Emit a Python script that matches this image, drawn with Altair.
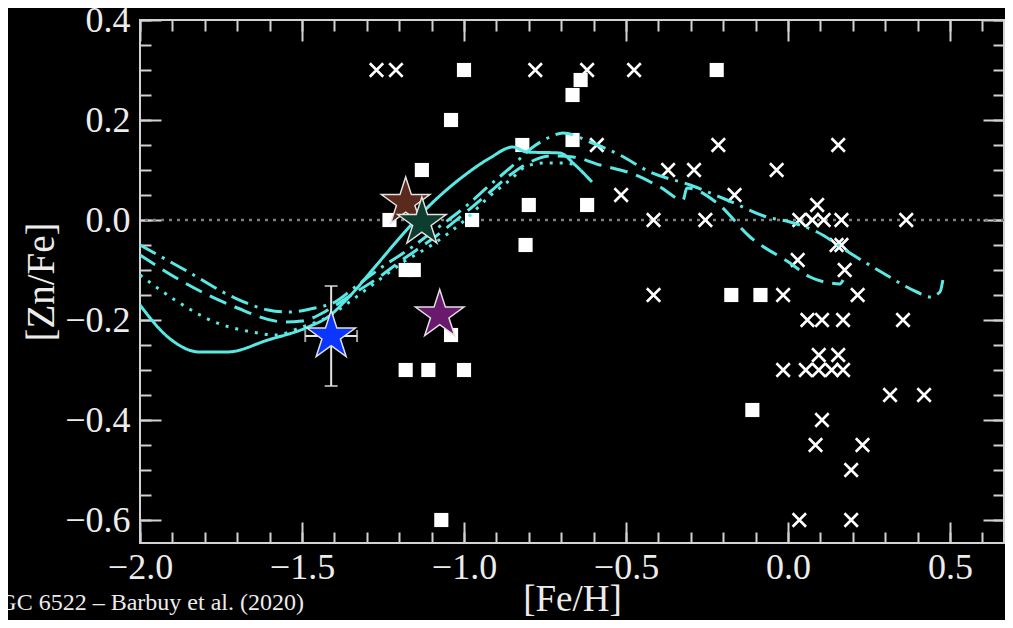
import altair as alt
import pandas as pd

# ---------------- data ----------------
cross_x = [-1.27, -1.21, -0.78, -0.62, -0.475, -0.59, -0.37, -0.29, -0.215, -0.035, 0.155,
           -0.515, -0.165, 0.09, -0.415, -0.255, 0.035, 0.075, 0.11, 0.165, 0.365,
           0.03, 0.15, 0.165, 0.175, -0.415, -0.015, 0.215, 0.06, 0.105, 0.17, 0.355,
           0.095, 0.155, -0.015, 0.055, 0.095, 0.135, 0.17, 0.315, 0.42, 0.105,
           0.085, 0.23, 0.195, 0.035, 0.195]
cross_y = [0.30, 0.30, 0.30, 0.30, 0.30, 0.15, 0.10, 0.10, 0.15, 0.10, 0.15,
           0.05, 0.05, 0.03, 0.0, 0.0, 0.0, 0.0, 0.0, 0.0, 0.0,
           -0.08, -0.05, -0.05, -0.10, -0.15, -0.15, -0.15, -0.20, -0.20, -0.20, -0.20,
           -0.27, -0.27, -0.30, -0.30, -0.30, -0.30, -0.30, -0.35, -0.35, -0.40,
           -0.45, -0.45, -0.50, -0.60, -0.60]

square_x = [-1.23, -0.975, -1.00, -1.04, -1.13, -0.82, -0.64, -0.665, -0.665, -0.22,
            -0.80, -0.62, -0.81, -0.175, -0.085, -0.11, -1.18, -1.155, -1.04,
            -1.18, -1.11, -1.00, -1.07]
square_y = [0.0, 0.0, 0.30, 0.20, 0.10, 0.15, 0.28, 0.25, 0.16, 0.30,
            0.03, 0.03, -0.05, -0.15, -0.15, -0.38, -0.10, -0.10, -0.23,
            -0.30, -0.30, -0.30, -0.60]

star_names = ["brown", "green", "purple", "blue"]
star_x = [-1.18, -1.13, -1.075, -1.41]
star_y = [0.035, -0.005, -0.19, -0.232]
star_colors = ["#5a2a1c", "#0c3d2e", "#6a1a6c", "#0a36ff"]

err_x = [-1.41]
err_y = [-0.232]
err_xlo = [-1.49]
err_xhi = [-1.33]
err_ylo = [-0.332]
err_yhi = [-0.132]

solid_x = [-2.000, -1.914, -1.815, -1.731, -1.605, -1.481, -1.420, -1.358, -1.275, -1.191,
           -1.111, -0.997, -0.920, -0.849, -0.806, -0.704, -0.657, -0.605]
solid_y = [-0.170, -0.234, -0.264, -0.264, -0.240, -0.214, -0.194, -0.156, -0.094, -0.030,
           0.026, 0.090, 0.124, 0.146, 0.136, 0.134, 0.110, 0.076]

dotted_x = [-2.000, -1.892, -1.769, -1.654, -1.583, -1.500, -1.420, -1.358, -1.275, -1.191,
            -1.090, -0.997, -0.920, -0.858, -0.806, -0.750, -0.688, -0.648]
dotted_y = [-0.110, -0.160, -0.204, -0.224, -0.230, -0.214, -0.194, -0.166, -0.126, -0.086,
            -0.046, 0.000, 0.048, 0.080, 0.108, 0.114, 0.114, 0.108]

dashed_x = [-2.000, -1.861, -1.707, -1.552, -1.500, -1.420, -1.358, -1.275, -1.191, -1.090,
            -0.997, -0.920, -0.858, -0.796, -0.735, -0.664, -0.580, -0.478, -0.395, -0.324,
            -0.312, -0.219, -0.117, 0.006, 0.068, 0.130, 0.160, 0.170]
dashed_y = [-0.070, -0.126, -0.174, -0.204, -0.202, -0.180, -0.154, -0.120, -0.080, -0.034,
            0.014, 0.056, 0.090, 0.116, 0.128, 0.126, 0.110, 0.092, 0.066, 0.040,
            0.064, 0.034, -0.034, -0.086, -0.114, -0.126, -0.128, -0.120]

dashdot_x = [-2.000, -1.861, -1.707, -1.605, -1.543, -1.460, -1.398, -1.336, -1.253, -1.173,
             -1.090, -0.997, -0.920, -0.858, -0.787, -0.741, -0.694, -0.611, -0.519, -0.426,
             -0.302, -0.188, -0.065, 0.006, 0.090, 0.191, 0.293, 0.398, 0.438, 0.469, 0.478]
dashdot_y = [-0.050, -0.100, -0.156, -0.180, -0.184, -0.176, -0.164, -0.134, -0.094, -0.060,
             -0.020, 0.026, 0.070, 0.104, 0.146, 0.164, 0.174, 0.156, 0.130, 0.096,
             0.070, 0.040, 0.006, -0.004, -0.024, -0.066, -0.106, -0.144, -0.154, -0.144, -0.120]

x_major = [-2.0, -1.5, -1.0, -0.5, 0.0, 0.5]
x_minor = [-2.0, -1.9, -1.8, -1.7, -1.6, -1.5, -1.4, -1.3, -1.2, -1.1, -1.0, -0.9, -0.8, -0.7,
           -0.6, -0.5, -0.4, -0.3, -0.2, -0.1, 0.0, 0.1, 0.2, 0.3, 0.4, 0.5, 0.6]
y_major = [-0.6, -0.4, -0.2, 0.0, 0.2, 0.4]
y_minor = [-0.6, -0.55, -0.5, -0.45, -0.4, -0.35, -0.3, -0.25, -0.2, -0.15, -0.1, -0.05, 0.0,
           0.05, 0.1, 0.15, 0.2, 0.25, 0.3, 0.35, 0.4]

note_text = ["NGC 6522 \u2013 Barbuy et al. (2020)"]

# ---------------- tables ----------------
crosses = pd.DataFrame({"x": cross_x, "y": cross_y})
squares = pd.DataFrame({"x": square_x, "y": square_y})
stars = pd.DataFrame({"x": star_x, "y": star_y, "name": star_names})
err = pd.DataFrame({"x": err_x, "y": err_y, "xlo": err_xlo, "xhi": err_xhi,
                    "ylo": err_ylo, "yhi": err_yhi})
rows = []
for name, xs_, ys_ in [("solid", solid_x, solid_y), ("dotted", dotted_x, dotted_y),
                       ("dashed", dashed_x, dashed_y), ("dashdot", dashdot_x, dashdot_y)]:
    for i, (a, b) in enumerate(zip(xs_, ys_)):
        rows.append({"x": a, "y": b, "model": name, "i": i})
lines = pd.DataFrame(rows)
zero = pd.DataFrame({"v": [0.0]})
note = pd.DataFrame({"t": note_text})

# ---------------- style ----------------
SERIF = "Liberation Serif"
TXT = "#ececec"
FRAME = "#d2d2d2"
CYAN = "#5ae8e4"
XMAX = 0.6667
xs = alt.Scale(domain=[-2.0, XMAX], nice=False, zero=False)
ys = alt.Scale(domain=[-0.646, 0.4], nice=False, zero=False)

CROSS = "M-1,-1L1,1M-1,1L1,-1"
STAR = ("M0,-1L0.2245,-0.309L0.951,-0.309L0.363,0.118L0.588,0.809L0,0.382"
        "L-0.588,0.809L-0.363,0.118L-0.951,-0.309L-0.2245,-0.309Z")


def tick_axis(orient, values, size):
    return alt.Axis(orient=orient, values=values, labels=False, domain=False, grid=False,
                    ticks=True, tickSize=size, offset=-size, tickColor=FRAME, tickWidth=2,
                    title=None)


x_label_axis = alt.Axis(orient="bottom", values=x_major, format=".1f", ticks=False,
                        tickSize=0, domain=False, grid=False, labelFont=SERIF,
                        labelFontSize=36, labelColor=TXT, labelPadding=7, labelFlush=False,
                        labelOverlap=False, title="[Fe/H]", titleFont=SERIF,
                        titleFontSize=37, titleFontWeight="normal", titleColor=TXT,
                        titlePadding=-4)
y_label_axis = alt.Axis(orient="left", values=y_major, format=".1f", ticks=False,
                        tickSize=0, domain=False, grid=False, labelFont=SERIF,
                        labelFontSize=36, labelColor=TXT, labelPadding=10, labelFlush=False,
                        labelOverlap=False, title="[Zn/Fe]", titleFont=SERIF,
                        titleFontSize=39, titleFontWeight="normal", titleColor=TXT,
                        titlePadding=3)

zero_layer = alt.Chart(zero).mark_rule(color="#808080", strokeDash=[3, 5], strokeWidth=2.5).encode(
    y=alt.Y("v:Q", scale=ys, axis=None))

square_layer = alt.Chart(squares).mark_square(color="white", size=200, opacity=1).encode(
    x=alt.X("x:Q", scale=xs, axis=x_label_axis),
    y=alt.Y("y:Q", scale=ys, axis=y_label_axis))

cross_layer = alt.Chart(crosses).mark_point(shape=CROSS, filled=False, stroke="white",
                                            strokeWidth=2.6, size=180, opacity=1).encode(
    x=alt.X("x:Q", scale=xs, axis=tick_axis("bottom", x_major, 21)),
    y=alt.Y("y:Q", scale=ys, axis=tick_axis("left", y_major, 21)))

line_layer = alt.Chart(lines).mark_line(color=CYAN, strokeWidth=3, interpolate="monotone").encode(
    x=alt.X("x:Q", scale=xs, axis=tick_axis("bottom", x_minor, 11)),
    y=alt.Y("y:Q", scale=ys, axis=tick_axis("left", y_minor, 11)),
    strokeDash=alt.StrokeDash("model:N", legend=None,
                              scale=alt.Scale(domain=["solid", "dotted", "dashed", "dashdot"],
                                              range=[[1, 0], [3, 7], [18, 9], [18, 7, 3, 7]])),
    order="i:Q")

errv_layer = alt.Chart(err).mark_rule(color="#e4e4e4", strokeWidth=2).encode(
    x=alt.X("x:Q", scale=xs, axis=tick_axis("top", x_major, 21)),
    y=alt.Y("ylo:Q", scale=ys, axis=tick_axis("right", y_major, 21)),
    y2="yhi:Q")

errh_layer = alt.Chart(err).mark_rule(color="#e4e4e4", strokeWidth=2).encode(
    x=alt.X("xlo:Q", scale=xs, axis=tick_axis("top", x_minor, 11)),
    x2="xhi:Q",
    y=alt.Y("y:Q", scale=ys, axis=tick_axis("right", y_minor, 11)))

capv_lo = alt.Chart(err).mark_tick(color="#e4e4e4", orient="horizontal", size=13, thickness=2).encode(
    x=alt.X("x:Q", scale=xs, axis=None), y=alt.Y("ylo:Q", scale=ys, axis=None))
capv_hi = alt.Chart(err).mark_tick(color="#e4e4e4", orient="horizontal", size=13, thickness=2).encode(
    x=alt.X("x:Q", scale=xs, axis=None), y=alt.Y("yhi:Q", scale=ys, axis=None))
caph_lo = alt.Chart(err).mark_tick(color="#e4e4e4", orient="vertical", size=12, thickness=2).encode(
    x=alt.X("xlo:Q", scale=xs, axis=None), y=alt.Y("y:Q", scale=ys, axis=None))
caph_hi = alt.Chart(err).mark_tick(color="#e4e4e4", orient="vertical", size=12, thickness=2).encode(
    x=alt.X("xhi:Q", scale=xs, axis=None), y=alt.Y("y:Q", scale=ys, axis=None))

star_layer = alt.Chart(stars).mark_point(shape=STAR, filled=True, size=2600, opacity=1,
                                         stroke="#e2e2e2", strokeWidth=1.5).encode(
    x=alt.X("x:Q", scale=xs, axis=None),
    y=alt.Y("y:Q", scale=ys, axis=None),
    fill=alt.Fill("name:N", legend=None,
                  scale=alt.Scale(domain=star_names, range=star_colors)))

note_layer = alt.Chart(note).mark_text(font=SERIF, fontSize=24, color=TXT, align="left",
                                       baseline="alphabetic").encode(
    x=alt.value(-158), y=alt.value(590), text="t:N")

chart = alt.layer(
    zero_layer, square_layer, cross_layer, line_layer, errv_layer, errh_layer,
    capv_lo, capv_hi, caph_lo, caph_hi, star_layer, note_layer
).resolve_axis(x="independent", y="independent").properties(
    width=864, height=523, background="black",
    padding={"left": 132, "top": 12, "right": 1, "bottom": 77},
    autosize=alt.AutoSizeParams(type="none")
).configure_view(stroke=FRAME, strokeWidth=2)

chart.save("out.html", embed_options={"renderer": "svg", "actions": False})
